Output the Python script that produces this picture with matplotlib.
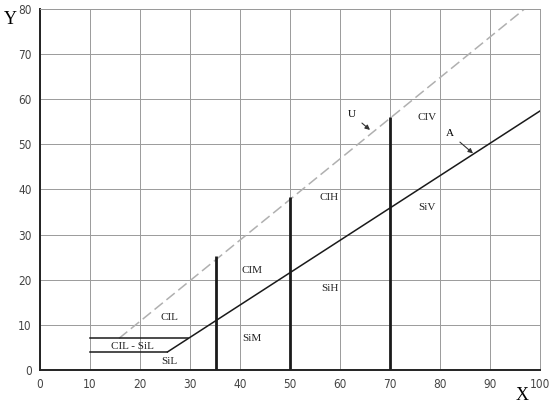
import matplotlib
matplotlib.use("Agg")
import matplotlib.pyplot as plt
import numpy as np

# Plasticity chart data
a_line_x = [25.5, 100]
a_line_y = [4, 57.4]
u_line_x = [15.8, 96.9]
u_line_y = [7, 80]
upper_step_x = [10, 29.6]
upper_step_y = [7, 7]
lower_step_x = [10, 25.5]
lower_step_y = [4, 4]
bound_x = [35.3, 50, 70]
bound_top = [25.3, 38.3, 56.1]

zone_labels = ["CIL", "CIL - SiL", "SiL", "SiM", "CIM", "SiH", "CIH", "SiV", "CIV"]
zone_x = [25.8, 18.4, 25.8, 42.4, 42.4, 58, 57.8, 77.4, 77.4]
zone_y = [11.7, 5.3, 1.8, 6.9, 22, 18, 38.3, 35.9, 56]

serif = "Liberation Serif"

fig = plt.figure(figsize=(5.5, 4.09), dpi=100)
ax = fig.add_axes([0.0727, 0.0954, 0.9091, 0.8826])

ax.set_xlim(0, 100)
ax.set_ylim(0, 80)
ax.set_xticks(np.arange(0, 101, 10))
ax.set_yticks(np.arange(0, 81, 10))
ax.grid(True, color="#9a9a9a", linewidth=0.7)
ax.tick_params(length=0, labelsize=8.5, colors="#444444", pad=6)
for lbl in ax.get_xticklabels() + ax.get_yticklabels():
    lbl.set_fontstretch("condensed")
for s in ["top", "right"]:
    ax.spines[s].set_color("#9a9a9a")
    ax.spines[s].set_linewidth(0.7)
for s in ["left", "bottom"]:
    ax.spines[s].set_color("#222222")
    ax.spines[s].set_linewidth(1.4)

ax.plot(a_line_x, a_line_y, color="#1a1a1a", linewidth=1.1)
ax.plot(u_line_x, u_line_y, color="#b0b0b0", linewidth=1.1, linestyle=(0, (7, 3)))
ax.plot(upper_step_x, upper_step_y, color="#1a1a1a", linewidth=1.1)
ax.plot(lower_step_x, lower_step_y, color="#1a1a1a", linewidth=1.1)
ax.vlines(bound_x, 0, bound_top, color="#1a1a1a", linewidth=2)

for lbl, x, y in zip(zone_labels, zone_x, zone_y):
    ax.text(x, y, lbl, ha="center", va="center", family=serif, fontsize=8, color="#222222")

ax.annotate("U", xy=(66, 53.2), xytext=(62.4, 56.6), family=serif, fontsize=8,
            ha="center", va="center",
            arrowprops=dict(arrowstyle="-|>", color="#333333", lw=0.8, mutation_scale=7,
                            shrinkA=3, shrinkB=0))
ax.annotate("A", xy=(86.6, 48), xytext=(82, 52.4), family=serif, fontsize=8,
            ha="center", va="center",
            arrowprops=dict(arrowstyle="-|>", color="#333333", lw=0.8, mutation_scale=7,
                            shrinkA=3, shrinkB=0))

fig.text(10 / 550, 1 - 20 / 409, "Y", family=serif, fontsize=13, ha="center", va="center")
fig.text(522 / 550, 1 - 395 / 409, "X", family=serif, fontsize=13, ha="center", va="center")

fig.savefig("out.png", dpi=100)
